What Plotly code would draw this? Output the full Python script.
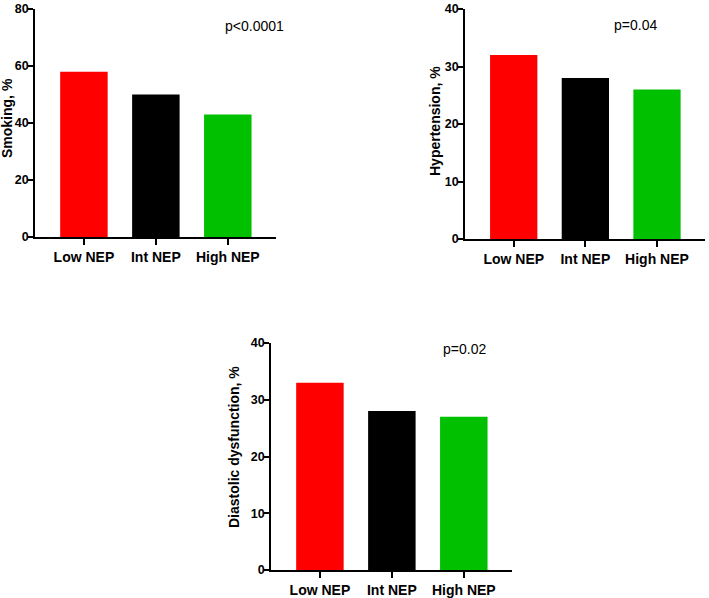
import plotly.graph_objects as go

categories = ["Low NEP", "Int NEP", "High NEP"]
smoking = [58, 50, 43]
hypertension = [32, 28, 26]
diastolic = [33, 28, 27]
y_titles = ["Smoking, %", "Hypertension, %", "Diastolic dysfunction, %"]
p_values = ["p<0.0001", "p=0.04", "p=0.02"]
y_max = [80, 40, 40]
y_dtick = [20, 10, 10]
colors = ["#FF0000", "#000000", "#00C000"]

W, H = 709, 598
# pixel boxes in the viewport: (left, right, top, bottom)
boxes = [(35, 276, 9, 237), (465, 705, 9, 239), (271, 512, 343, 570)]
p_pos = [(223, 16), (659, 15), (464, 349)]
title_pos = [(7, 118), (435, 121), (234, 447)]

fig = go.Figure()
series = [smoking, hypertension, diastolic]
font_family = "Liberation Sans, Arial, sans-serif"

for i, vals in enumerate(series):
    sfx = "" if i == 0 else str(i + 1)
    fig.add_trace(go.Bar(
        x=categories, y=vals, marker=dict(color=colors, line=dict(width=0)),
        xaxis="x" + sfx, yaxis="y" + sfx, showlegend=False, width=0.66,
        hoverinfo="skip",
    ))
    l, r, t, b = boxes[i]
    xa = dict(
        domain=[l / W, r / W], anchor="y" + sfx, range=[-0.68, 2.67],
        showline=True, linecolor="black", linewidth=1.5, ticks="outside",
        ticklen=6, tickwidth=1.5, tickcolor="black", showgrid=False,
        tickfont=dict(family=font_family, size=14, color="black", weight="bold"),
        fixedrange=True, automargin=False,
    )
    ya = dict(
        domain=[1 - b / H, 1 - t / H], anchor="x" + sfx, range=[0, y_max[i]],
        dtick=y_dtick[i], showline=True, linecolor="black", linewidth=1.5,
        ticks="outside", ticklen=5, tickwidth=1.5, tickcolor="black",
        showgrid=False, zeroline=False, ticklabelstandoff=-3,
        tickfont=dict(family=font_family, size=12.5, color="black", weight="bold"),
        fixedrange=True, automargin=False,
    )
    fig.layout["xaxis" + sfx] = xa
    fig.layout["yaxis" + sfx] = ya
    px, py = p_pos[i]
    fig.add_annotation(x=px / W, y=1 - py / H, xref="paper", yref="paper",
                       text=p_values[i], showarrow=False,
                       font=dict(family=font_family, size=14, color="black"))
    tx, ty = title_pos[i]
    fig.add_annotation(x=tx / W, y=1 - ty / H, xref="paper", yref="paper",
                       text=y_titles[i], showarrow=False, textangle=-90,
                       xanchor="center", yanchor="middle",
                       font=dict(family=font_family, size=14, color="black",
                                 weight="bold"))

fig.update_layout(
    width=W, height=H, margin=dict(l=0, r=0, t=0, b=0, autoexpand=False),
    paper_bgcolor="white", plot_bgcolor="white", bargap=0.34,
)
fig.write_html("out.html", config={"displayModeBar": False},
               post_script="document.body.style.margin='0';document.body.style.overflow='hidden';")
